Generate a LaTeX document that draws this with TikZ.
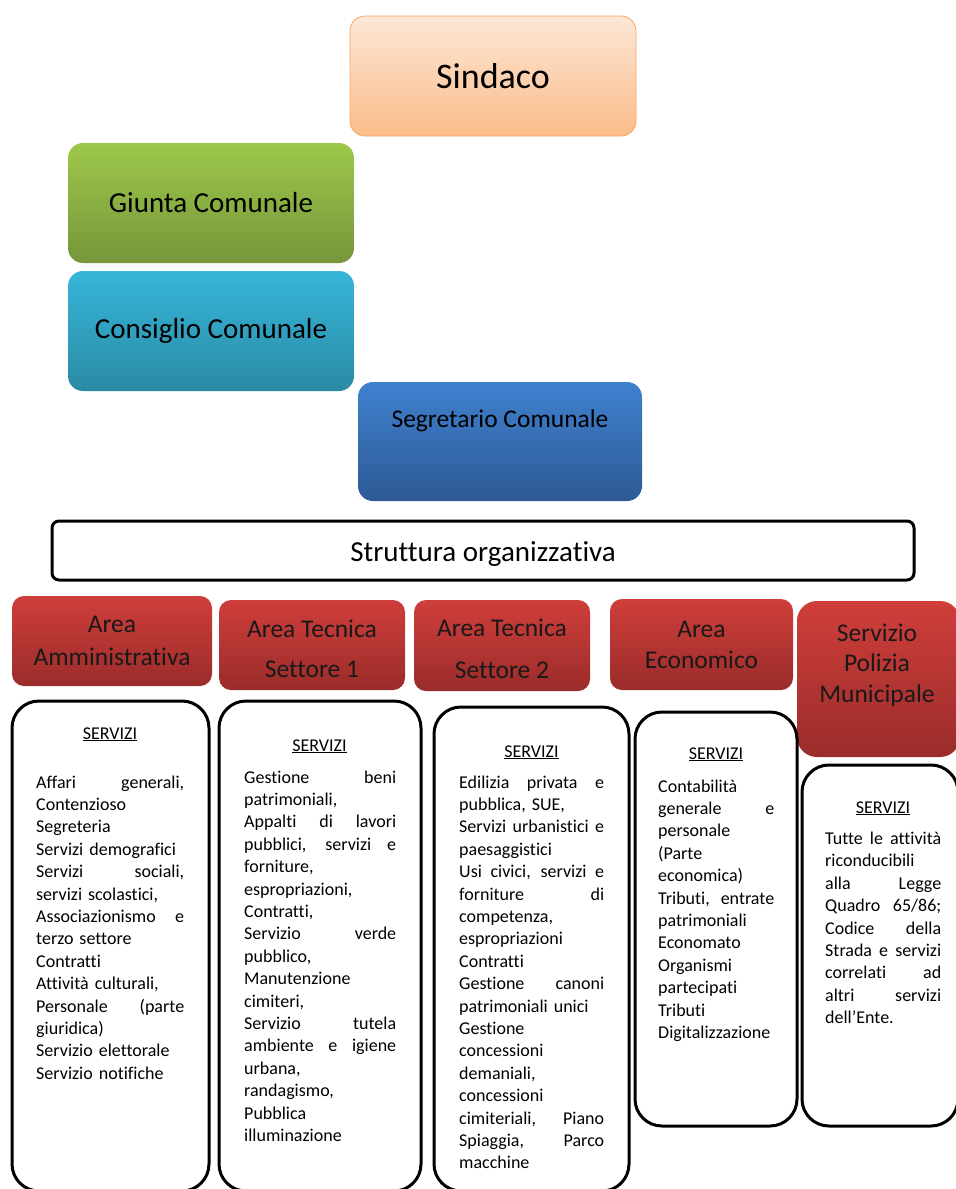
\documentclass[tikz,border=0pt]{standalone}
\usepackage{fontspec}
\setmainfont{Carlito}[Ligatures=NoCommon]
\definecolor{peachT}{HTML}{FDE7D6}
\definecolor{peachB}{HTML}{FBBD8A}
\definecolor{peachD}{HTML}{F6A566}
\definecolor{greenT}{HTML}{9DC84B}
\definecolor{greenB}{HTML}{76963A}
\definecolor{cyanT}{HTML}{37B6D9}
\definecolor{cyanB}{HTML}{2A8AA4}
\definecolor{blueT}{HTML}{3F81CF}
\definecolor{blueB}{HTML}{2D5A95}
\definecolor{redT}{HTML}{CF3E3B}
\definecolor{redB}{HTML}{9A2C2A}
\newlength\jw
\newcommand\jl[1]{\makebox[\jw][s]{\spaceskip=\fontdimen2\font plus 1fil\relax #1}}
\begin{document}
\begin{tikzpicture}[x=1pt,y=-1pt,
  cbox/.style={rounded corners=15pt, inner sep=0pt, outer sep=0pt, align=center},
  peach/.style={cbox, top color=peachT, bottom color=peachB, draw=peachD, line width=0.8pt},
  green/.style={cbox, top color=greenT, bottom color=greenB},
  cyan/.style={cbox, top color=cyanT, bottom color=cyanB},
  blue/.style={cbox, top color=blueT, bottom color=blueB},
  redbox/.style={cbox, rounded corners=12pt, top color=redT, bottom color=redB},
  whitebox/.style={draw=black, line width=3pt, fill=white, rounded corners=27pt, inner sep=0pt, outer sep=0pt},
  body/.style={anchor=base west, inner sep=0pt, align=left, font=\fontsize{18}{22.4}\selectfont},
  hdr/.style={anchor=base, inner sep=0pt, font=\fontsize{18}{22}\selectfont},
  redtxt/.style={font=\fontsize{25.5}{33}\selectfont, text=black!90}
]
\useasboundingbox (0,0) rectangle (956,1189);
\clip (0,0) rectangle (956,1189);
\fill[white] (0,0) rectangle (956,1189);

% top boxes
\node[peach, minimum width=286pt, minimum height=120pt, font=\fontsize{36}{40}\selectfont] (sind) at (493,76) {Sindaco};
\node[green, minimum width=286pt, minimum height=120pt, font=\fontsize{29}{33}\selectfont] (giunta) at (211,203) {Giunta Comunale};
\node[cyan, minimum width=286pt, minimum height=120pt, font=\fontsize{29}{33}\selectfont] (consiglio) at (211,331) {Consiglio Comunale};
\node[blue, minimum width=284pt, minimum height=119pt] (segr) at (500,441.5) {};
\node[font=\fontsize{25.5}{30}\selectfont, inner sep=0pt] (segrT) at (500,421) {Segretario Comunale};

% struttura
\node[draw=black, line width=3pt, fill=white, rounded corners=7pt, minimum width=862pt, minimum height=59pt, inner sep=0pt, outer sep=0pt] (strutt) at (483,550.5) {};
\node[inner sep=0pt, font=\fontsize{29}{33}\selectfont] (struttT) at (483,554) {Struttura organizzativa};

% red area boxes
\node[redbox, minimum width=200pt, minimum height=90pt, redtxt] (a1) at (112,641) {Area\\Amministrativa};
\node[redbox, minimum width=186pt, minimum height=90pt] (a2) at (312,645) {};
\node[redtxt, align=center, inner sep=0pt, font=\fontsize{25.5}{40}\selectfont] (a2T) at (312,648.5) {Area Tecnica\\Settore 1};
\node[redbox, minimum width=176pt, minimum height=91pt] (a3) at (502,645.5) {};
\node[redtxt, align=center, inner sep=0pt, font=\fontsize{25.5}{42}\selectfont] (a3T) at (502,648.5) {Area Tecnica\\Settore 2};
\node[redbox, minimum width=183pt, minimum height=91pt, redtxt, font=\fontsize{25.5}{31}\selectfont] (a4) at (701.5,644.5) {Area\\Economico};
\node[redbox, rounded corners=20pt, minimum width=163pt, minimum height=156pt] (a5) at (878.5,679) {};
\node[redtxt, align=center, inner sep=0pt, font=\fontsize{25.5}{30.5}\selectfont] (a5T) at (877,665) {Servizio\\Polizia\\Municipale};

% white service boxes
\node[whitebox, minimum width=197pt, minimum height=490pt] (w1) at (110.5,946) {};
\node[whitebox, minimum width=202pt, minimum height=490pt] (w2) at (320,946) {};
\node[whitebox, minimum width=195pt, minimum height=484pt] (w3) at (531.5,949) {};
\node[whitebox, minimum width=162pt, minimum height=414pt] (w4) at (716,919) {};
\node[whitebox, minimum width=156pt, minimum height=361pt] (w5) at (880,945.5) {};

% headers
\node[hdr] (h1) at (110,739) {\underline{SERVIZI}};
\node[hdr] (h2) at (319.5,751) {\underline{SERVIZI}};
\node[hdr] (h3) at (531.5,757) {\underline{SERVIZI}};
\node[hdr] (h4) at (716,759) {\underline{SERVIZI}};
\node[hdr] (h5) at (883,813) {\underline{SERVIZI}};

% body texts
\node[body, text width=148pt] (t1) at (36,788) {\setlength\jw{148pt}%
\jl{Affari generali,}\\
Contenzioso\\
Segreteria\\
Servizi demografici\\
\jl{Servizi sociali,}\\
servizi scolastici,\\
\jl{Associazionismo e}\\
terzo settore\\
Contratti\\
Attività culturali,\\
\jl{Personale (parte}\\
giuridica)\\
Servizio elettorale\\
Servizio notifiche};

\node[body, text width=152pt] (t2) at (244,783) {\setlength\jw{152pt}%
\jl{Gestione beni}\\
patrimoniali,\\
\jl{Appalti di lavori}\\
\jl{pubblici, servizi e}\\
forniture,\\
espropriazioni,\\
Contratti,\\
\jl{Servizio verde}\\
pubblico,\\
Manutenzione\\
cimiteri,\\
\jl{Servizio tutela}\\
\jl{ambiente e igiene}\\
urbana,\\
randagismo,\\
Pubblica\\
illuminazione};

\node[body, text width=145pt] (t3) at (459,788) {\setlength\jw{145pt}%
\jl{Edilizia privata e}\\
pubblica, SUE,\\
\jl{Servizi urbanistici e}\\
paesaggistici\\
\jl{Usi civici, servizi e}\\
\jl{forniture di}\\
competenza,\\
espropriazioni\\
Contratti\\
\jl{Gestione canoni}\\
patrimoniali unici\\
Gestione\\
concessioni\\
demaniali,\\
concessioni\\
\jl{cimiteriali, Piano}\\
\jl{Spiaggia, Parco}\\
macchine};

\node[body, text width=116pt] (t4) at (658,792) {\setlength\jw{116pt}%
Contabilità\\
\jl{generale e}\\
personale\\
(Parte\\
economica)\\
\jl{Tributi, entrate}\\
patrimoniali\\
Economato\\
Organismi\\
partecipati\\
Tributi\\
Digitalizzazione};

\node[body, text width=116pt] (t5) at (825,844.5) {\setlength\jw{116pt}%
\jl{Tutte le attività}\\
riconducibili\\
\jl{alla Legge}\\
\jl{Quadro 65/86;}\\
\jl{Codice della}\\
\jl{Strada e servizi}\\
\jl{correlati ad}\\
\jl{altri servizi}\\
dell’Ente.};
\end{tikzpicture}
\end{document}
